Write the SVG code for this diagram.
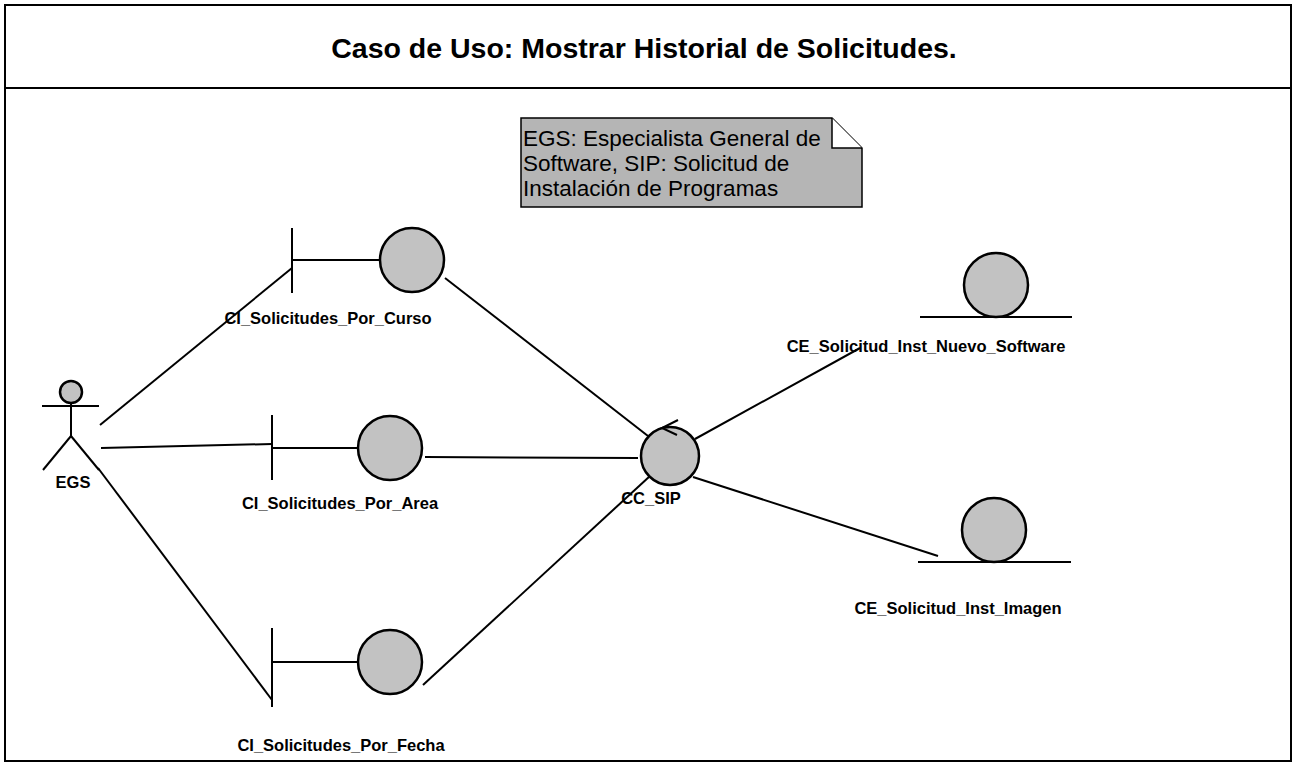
<svg xmlns="http://www.w3.org/2000/svg" width="1296" height="779" viewBox="0 0 1296 779">
<style>
.ln{stroke:#000;stroke-width:2;fill:none}
.orb{fill:#c2c2c2;stroke:#000;stroke-width:2.5}
.lbl{font-family:"Liberation Sans",Arial,sans-serif;font-weight:bold;font-size:16.5px;fill:#000;text-anchor:middle}
.note{font-family:"Liberation Sans",Arial,sans-serif;font-size:22.5px;fill:#000}
</style>
<rect width="1296" height="779" fill="#fff"/>
<g id="frame">
<rect x="5" y="5" width="1286" height="756" class="ln"/>
<line x1="5" y1="88" x2="1291" y2="88" class="ln"/>
<text x="644" y="58" font-family="Liberation Sans,Arial,sans-serif" font-weight="bold" font-size="28.5" text-anchor="middle">Caso de Uso: Mostrar Historial de Solicitudes.</text>
</g>
<g id="note">
<polygon points="521,118 832,118 862,148 862,207 521,207" fill="#b5b5b5" stroke="#000" stroke-width="1.5"/>
<polyline points="832,118 832,148 862,148" fill="#fff" stroke="#000" stroke-width="1.5"/>
<text class="note" x="523" y="146">EGS: Especialista General de</text>
<text class="note" x="523" y="171">Software, SIP: Solicitud de</text>
<text class="note" x="523" y="196">Instalación de Programas</text>
</g>
<g id="connectors">
<line x1="100" y1="425" x2="292" y2="268" class="ln"/>
<line x1="101" y1="448" x2="272" y2="444" class="ln"/>
<line x1="98" y1="468" x2="272" y2="700" class="ln"/>
<line x1="445" y1="278" x2="648" y2="436" class="ln"/>
<line x1="425" y1="457" x2="638" y2="458" class="ln"/>
<line x1="423" y1="685" x2="650" y2="476" class="ln"/>
<line x1="695" y1="439" x2="860" y2="348" class="ln"/>
<line x1="693" y1="477" x2="938" y2="556" class="ln"/>
</g>
<g id="EGS">
<circle cx="71" cy="392" r="11" class="orb"/>
<line x1="71" y1="403" x2="71" y2="436" class="ln"/>
<line x1="42" y1="406" x2="99" y2="406" class="ln"/>
<line x1="71" y1="436" x2="43" y2="470" class="ln"/>
<line x1="71" y1="436" x2="99" y2="470" class="ln"/>
<text class="lbl" x="73" y="488">EGS</text>
</g>
<g id="CI_Solicitudes_Por_Curso">
<line x1="292" y1="228" x2="292" y2="293" class="ln"/>
<line x1="292" y1="260" x2="380" y2="260" class="ln"/>
<circle cx="412" cy="260" r="32" class="orb"/>
<text class="lbl" x="328" y="324">CI_Solicitudes_Por_Curso</text>
</g>
<g id="CI_Solicitudes_Por_Area">
<line x1="272" y1="415" x2="272" y2="480" class="ln"/>
<line x1="272" y1="448" x2="358" y2="448" class="ln"/>
<circle cx="390" cy="448" r="32" class="orb"/>
<text class="lbl" x="340" y="509">CI_Solicitudes_Por_Area</text>
</g>
<g id="CI_Solicitudes_Por_Fecha">
<line x1="272" y1="628" x2="272" y2="707" class="ln"/>
<line x1="272" y1="662" x2="358" y2="662" class="ln"/>
<circle cx="390" cy="662" r="32" class="orb"/>
<text class="lbl" x="341" y="751">CI_Solicitudes_Por_Fecha</text>
</g>
<g id="CC_SIP">
<circle cx="670" cy="456" r="29" class="orb"/>
<polyline points="678,420 662,428 677,435" class="ln"/>
<text class="lbl" x="651" y="504">CC_SIP</text>
</g>
<g id="CE_Solicitud_Inst_Nuevo_Software">
<circle cx="996" cy="285" r="32" class="orb"/>
<line x1="920" y1="317" x2="1072" y2="317" class="ln"/>
<text class="lbl" x="926" y="352">CE_Solicitud_Inst_Nuevo_Software</text>
</g>
<g id="CE_Solicitud_Inst_Imagen">
<circle cx="994" cy="530" r="32" class="orb"/>
<line x1="918" y1="562" x2="1071" y2="562" class="ln"/>
<text class="lbl" x="958" y="614">CE_Solicitud_Inst_Imagen</text>
</g>
</svg>
